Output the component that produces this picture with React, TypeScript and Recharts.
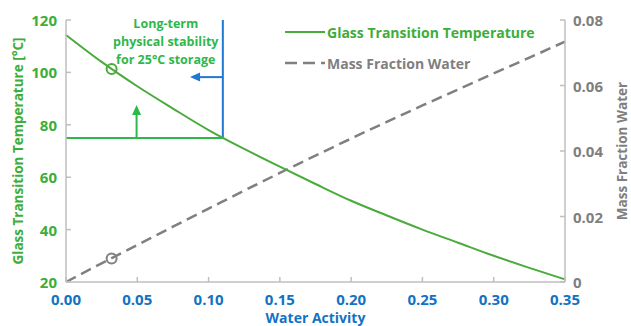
import React from "react";
import {
  ComposedChart,
  Line,
  XAxis,
  YAxis,
  ReferenceLine,
  ReferenceDot,
  Label,
} from "recharts";

// ---- data ----
const waterActivity = [0, 0.025, 0.05, 0.075, 0.1, 0.125, 0.15, 0.175, 0.2, 0.225, 0.25, 0.275, 0.3, 0.325, 0.35];
const glassTemp = [114.3, 104.0, 94.7, 86.2, 78.0, 70.8, 64.0, 57.4, 51.0, 45.4, 40.0, 35.0, 30.0, 25.4, 21.0];
const massFraction = [0, 0.0057, 0.0113, 0.0169, 0.0224, 0.0279, 0.0333, 0.0386, 0.0438, 0.0489, 0.0539, 0.0588, 0.0637, 0.0685, 0.0734];

const xTicks = [0, 0.05, 0.1, 0.15, 0.2, 0.25, 0.3, 0.35];
const leftTicks = [20, 40, 60, 80, 100, 120];
const rightTicks = [0, 0.02, 0.04, 0.06, 0.08];

const stabilityAw = 0.11;
const stabilityTg = 75;
const markerAw = 0.032;
const markerTg = 101.3;
const markerMw = 0.0072;
const blueArrowY = 98.2;
const blueArrowTipX = 0.087;
const greenArrowX = 0.0495;
const greenArrowTipY = 87.6;
const noteX = 0.07;
const noteLines = ["Long-term", "physical stability", "for 25°C storage"];

const data = waterActivity.map((aw, i) => ({
  aw,
  tg: glassTemp[i],
  mw: massFraction[i],
}));

// ---- style ----
const FONT = "'Open Sans', sans-serif";
const GREEN_LINE = "#4aab3c";
const GREEN_TEXT = "#3dae3a";
const GREEN_NOTE = "#2db84b";
const BLUE = "#1f78d1";
const BLUE_TEXT = "#1272c4";
const GRAY = "#808080";
const GRAY_TEXT = "#7f7f7f";
const AXIS = "#bfbfbf";

const XTick = (p: any) => {
  const { x, y, payload } = p;
  return (
    <g>
      <line x1={x} y1={y} x2={x} y2={y - 5} stroke={AXIS} strokeWidth={1.5} />
      <text x={x} y={y + 16.5} textAnchor="middle" dominantBaseline="central" fill={BLUE_TEXT} fontFamily={FONT} fontWeight={700} fontSize={15}>
        {Number(payload.value).toFixed(2)}
      </text>
    </g>
  );
};

const LeftTick = (p: any) => {
  const { x, y, payload } = p;
  return (
    <g>
      <line x1={x} y1={y} x2={x + 5} y2={y} stroke={AXIS} strokeWidth={1.5} />
      <text x={x - 9} y={y} textAnchor="end" dominantBaseline="central" fill={GREEN_TEXT} fontFamily={FONT} fontWeight={700} fontSize={15}>
        {payload.value}
      </text>
    </g>
  );
};

const RightTick = (p: any) => {
  const { x, y, payload } = p;
  const v = Number(payload.value);
  return (
    <g>
      <line x1={x} y1={y} x2={x - 5} y2={y} stroke={AXIS} strokeWidth={1.5} />
      <text x={x + 8} y={y} textAnchor="start" dominantBaseline="central" fill={GRAY_TEXT} fontFamily={FONT} fontWeight={700} fontSize={15}>
        {v === 0 ? "0" : v.toFixed(2)}
      </text>
    </g>
  );
};

const ArrowLine = (color: string) => (p: any) => {
  const { x1, y1, x2, y2 } = p;
  const dx = x2 - x1;
  const dy = y2 - y1;
  const len = Math.sqrt(dx * dx + dy * dy) || 1;
  const ux = dx / len;
  const uy = dy / len;
  const hl = 10;
  const hw = 4.5;
  const bx = x2 - ux * hl;
  const by = y2 - uy * hl;
  return (
    <g>
      <line x1={x1} y1={y1} x2={bx} y2={by} stroke={color} strokeWidth={2} />
      <polygon
        points={`${x2},${y2} ${bx - uy * hw},${by + ux * hw} ${bx + uy * hw},${by - ux * hw}`}
        fill={color}
      />
    </g>
  );
};

const NoteShape = (p: any) => {
  const { cx, cy } = p;
  return (
    <g>
      {noteLines.map((t, i) => (
        <text key={t} x={cx} y={cy + 3 + i * 18} textAnchor="middle" dominantBaseline="central" fill={GREEN_NOTE} fontFamily={FONT} fontWeight={700} fontSize={12.5}>
          {t}
        </text>
      ))}
    </g>
  );
};

export default function App() {
  return (
    <div style={{ position: "absolute", left: 0, top: 0, width: 631, height: 326, background: "#fff" }}>
      <ComposedChart width={631} height={326} data={data} margin={{ top: 20, right: 0, bottom: 0, left: 0 }}>
        <XAxis
          dataKey="aw"
          type="number"
          domain={[0, 0.35]}
          ticks={xTicks}
          interval={0}
          height={44}
          tickSize={0}
          tickMargin={0}
          tickLine={false}
          axisLine={{ stroke: AXIS, strokeWidth: 1.5 }}
          tick={<XTick />}
        >
          <Label
            content={(p: any) => {
              const vb = p.viewBox;
              return (
                <text x={vb.x + vb.width / 2} y={vb.y + 35} textAnchor="middle" dominantBaseline="central" fill={BLUE_TEXT} fontFamily={FONT} fontWeight={700} fontSize={14}>
                  Water Activity
                </text>
              );
            }}
          />
        </XAxis>
        <YAxis
          yAxisId="left"
          orientation="left"
          domain={[20, 120]}
          ticks={leftTicks}
          interval={0}
          width={66}
          tickSize={0}
          tickMargin={0}
          tickLine={false}
          axisLine={{ stroke: AXIS, strokeWidth: 1.5 }}
          tick={<LeftTick />}
        >
          <Label
            content={(p: any) => {
              const vb = p.viewBox;
              const cx = vb.x + 17.5;
              const cy = vb.y + vb.height / 2;
              return (
                <text x={cx} y={cy} transform={`rotate(-90 ${cx} ${cy})`} textAnchor="middle" dominantBaseline="central" fill={GREEN_TEXT} fontFamily={FONT} fontWeight={700} fontSize={13.5}>
                  Glass Transition Temperature [°C]
                </text>
              );
            }}
          />
        </YAxis>
        <YAxis
          yAxisId="right"
          orientation="right"
          domain={[0, 0.08]}
          ticks={rightTicks}
          interval={0}
          width={66}
          tickSize={0}
          tickMargin={0}
          tickLine={false}
          axisLine={{ stroke: AXIS, strokeWidth: 1.5 }}
          tick={<RightTick />}
        >
          <Label
            content={(p: any) => {
              const vb = p.viewBox;
              const cx = vb.x + 57;
              const cy = vb.y + vb.height / 2;
              return (
                <text x={cx} y={cy} transform={`rotate(-90 ${cx} ${cy})`} textAnchor="middle" dominantBaseline="central" fill={GRAY_TEXT} fontFamily={FONT} fontWeight={700} fontSize={13.5}>
                  Mass Fraction Water
                </text>
              );
            }}
          />
        </YAxis>

        <ReferenceLine
          yAxisId="left"
          segment={[{ x: 0, y: stabilityTg }, { x: stabilityAw, y: stabilityTg }]}
          stroke={GREEN_NOTE}
          strokeWidth={2}
        />
        <ReferenceLine
          yAxisId="left"
          segment={[{ x: stabilityAw, y: 120 }, { x: stabilityAw, y: stabilityTg }]}
          stroke={BLUE}
          strokeWidth={2}
        />
        <ReferenceLine
          yAxisId="left"
          segment={[{ x: stabilityAw, y: blueArrowY }, { x: blueArrowTipX, y: blueArrowY }]}
          shape={ArrowLine(BLUE)}
        />
        <ReferenceLine
          yAxisId="left"
          segment={[{ x: greenArrowX, y: stabilityTg }, { x: greenArrowX, y: greenArrowTipY }]}
          shape={ArrowLine(GREEN_NOTE)}
        />

        <Line
          yAxisId="right"
          dataKey="mw"
          type="monotone"
          stroke={GRAY}
          strokeWidth={2.5}
          strokeDasharray="11 6"
          dot={false}
          activeDot={false}
          isAnimationActive={false}
        />
        <Line
          yAxisId="left"
          dataKey="tg"
          type="monotone"
          stroke={GREEN_LINE}
          strokeWidth={2}
          dot={false}
          activeDot={false}
          isAnimationActive={false}
        />

        <ReferenceDot yAxisId="left" x={markerAw} y={markerTg} r={5} fill="none" stroke={GREEN_LINE} strokeWidth={2} />
        <ReferenceDot yAxisId="right" x={markerAw} y={markerMw} r={5} fill="none" stroke={GRAY} strokeWidth={2} />
        <ReferenceDot yAxisId="left" x={noteX} y={120} r={0} shape={NoteShape} ifOverflow="visible" />
      </ComposedChart>

      <svg style={{ position: "absolute", left: 280, top: 15 }} width={320} height={65}>
        <line x1={5} y1={17} x2={45} y2={17} stroke={GREEN_LINE} strokeWidth={2} />
        <text x={47} y={17} dominantBaseline="central" fill={GREEN_TEXT} fontFamily={FONT} fontWeight={700} fontSize={14}>
          Glass Transition Temperature
        </text>
        <line x1={5} y1={48} x2={45} y2={48} stroke={GRAY} strokeWidth={2.5} strokeDasharray="12 6" />
        <text x={47} y={48} dominantBaseline="central" fill={GRAY_TEXT} fontFamily={FONT} fontWeight={700} fontSize={14}>
          Mass Fraction Water
        </text>
      </svg>
    </div>
  );
}
